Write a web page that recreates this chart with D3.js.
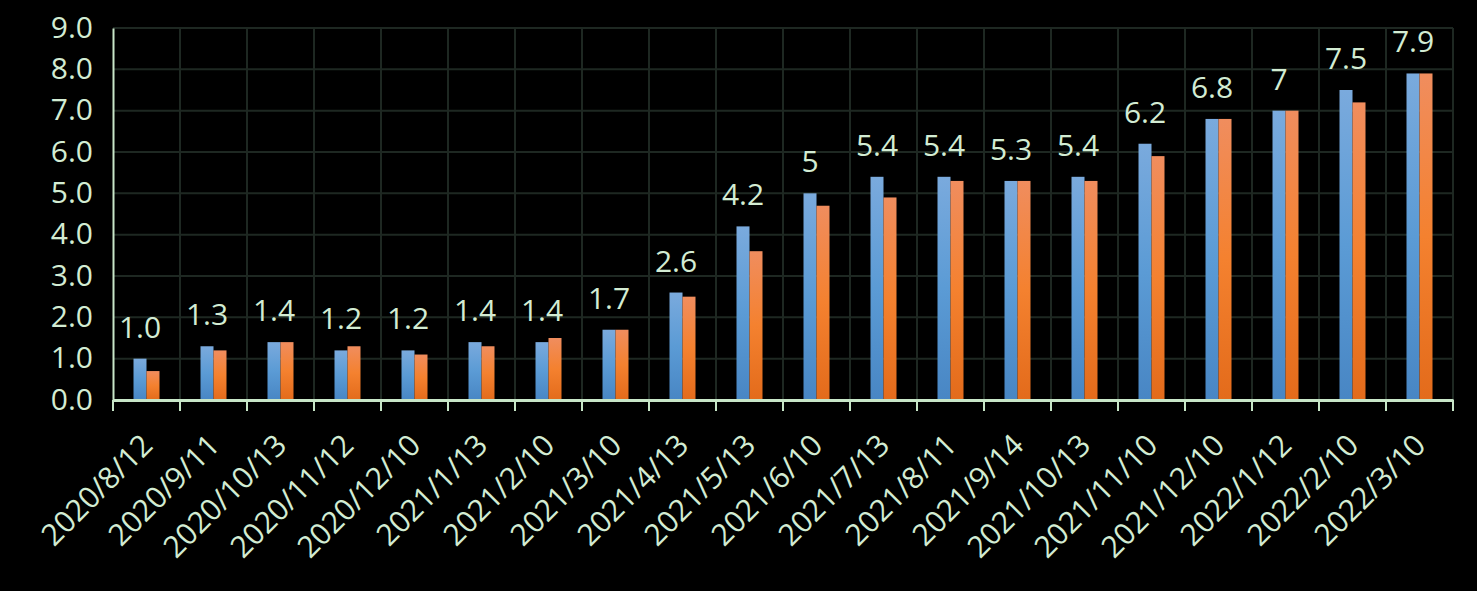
<!DOCTYPE html>
<html>
<head>
<meta charset="utf-8">
<script src="https://cdn.jsdelivr.net/npm/d3@7"></script>
<style>
  html, body { margin: 0; padding: 0; background: #000; }
  svg { display: block; }
  text { font-family: "Open Sans", "Noto Sans", sans-serif; fill: #d3ecd3; }
</style>
</head>
<body>
<script>
const categories = ["2020/8/12","2020/9/11","2020/10/13","2020/11/12","2020/12/10","2021/1/13","2021/2/10","2021/3/10","2021/4/13","2021/5/13","2021/6/10","2021/7/13","2021/8/11","2021/9/14","2021/10/13","2021/11/10","2021/12/10","2022/1/12","2022/2/10","2022/3/10"];
const seriesA = [1.0,1.3,1.4,1.2,1.2,1.4,1.4,1.7,2.6,4.2,5.0,5.4,5.4,5.3,5.4,6.2,6.8,7.0,7.5,7.9];
const seriesB = [0.7,1.2,1.4,1.3,1.1,1.3,1.5,1.7,2.5,3.6,4.7,4.9,5.3,5.3,5.3,5.9,6.8,7.0,7.2,7.9];
const dataLabels = ["1.0","1.3","1.4","1.2","1.2","1.4","1.4","1.7","2.6","4.2","5","5.4","5.4","5.3","5.4","6.2","6.8","7","7.5","7.9"];
const yTicks = [0,1,2,3,4,5,6,7,8,9];

const W = 1477, H = 591;
const mLeft = 113, mRight = 1453, mTop = 28, mBottom = 400;
const FS = 30;

const svg = d3.select("body").append("svg").attr("width", W).attr("height", H);

const defs = svg.append("defs");
const gA = defs.append("linearGradient").attr("id","gA").attr("x1",0).attr("y1",0).attr("x2",0).attr("y2",1);
gA.append("stop").attr("offset","0%").attr("stop-color","#7aaadd");
gA.append("stop").attr("offset","50%").attr("stop-color","#5b9bd5");
gA.append("stop").attr("offset","100%").attr("stop-color","#4886c4");
const gB = defs.append("linearGradient").attr("id","gB").attr("x1",0).attr("y1",0).attr("x2",0).attr("y2",1);
gB.append("stop").attr("offset","0%").attr("stop-color","#f08d5e");
gB.append("stop").attr("offset","50%").attr("stop-color","#f4812f");
gB.append("stop").attr("offset","100%").attr("stop-color","#e36b1b");

const x = d3.scaleBand().domain(categories).range([mLeft, mRight]).paddingInner(0).paddingOuter(0);
const y = d3.scaleLinear().domain([0, 9]).range([mBottom, mTop]);
const bw = x.bandwidth() * 0.194;

// horizontal gridlines
svg.append("g").selectAll("line").data(yTicks.filter(d => d > 0)).join("line")
  .attr("x1", mLeft).attr("x2", mRight)
  .attr("y1", d => y(d)).attr("y2", d => y(d))
  .attr("stroke", "#1e2822").attr("stroke-width", 2);

// vertical gridlines at band boundaries
const bounds = categories.map(c => x(c)).concat([mRight]);
svg.append("g").selectAll("line").data(bounds.slice(1)).join("line")
  .attr("x1", d => d).attr("x2", d => d)
  .attr("y1", mTop).attr("y2", mBottom)
  .attr("stroke", "#1e2822").attr("stroke-width", 2);

// bars
svg.append("g").selectAll("rect").data(seriesA).join("rect")
  .attr("x", (d,i) => x(categories[i]) + x.bandwidth()/2 - bw)
  .attr("y", d => y(d))
  .attr("width", bw)
  .attr("height", d => mBottom - y(d))
  .attr("fill", "url(#gA)");
svg.append("g").selectAll("rect").data(seriesB).join("rect")
  .attr("x", (d,i) => x(categories[i]) + x.bandwidth()/2)
  .attr("y", d => y(d))
  .attr("width", bw)
  .attr("height", d => mBottom - y(d))
  .attr("fill", "url(#gB)");

// data labels
svg.append("g").selectAll("text").data(seriesA).join("text")
  .attr("x", (d,i) => x(categories[i]) + x.bandwidth()/2 - bw/2)
  .attr("y", d => y(d) - 21)
  .attr("text-anchor", "middle")
  .attr("font-size", FS)
  .text((d,i) => dataLabels[i]);

// y axis
const yAxis = svg.append("g").attr("transform", `translate(${mLeft},0)`)
  .call(d3.axisLeft(y).tickValues(yTicks).tickFormat(d3.format(".1f")).tickSize(0).tickPadding(20));
yAxis.select(".domain").attr("stroke", "#c8e6c8").attr("stroke-width", 2);
yAxis.selectAll("text").attr("font-size", FS).attr("fill", "#d3ecd3").attr("dy", "0.3em");

// x axis
const xAxis = svg.append("g").attr("transform", `translate(0,${mBottom})`)
  .call(d3.axisBottom(x).tickSize(0).tickSizeOuter(0));
xAxis.select(".domain").attr("stroke", "#c8e6c8").attr("stroke-width", 3);
xAxis.selectAll(".tick line").remove();
xAxis.selectAll(".tick text")
  .attr("font-size", FS)
  .attr("fill", "#d3ecd3")
  .attr("text-anchor", "end")
  .attr("y", 0)
  .attr("dy", 0)
  .attr("transform", "translate(8,47) rotate(-45)");
// tick marks at band boundaries
svg.append("g").selectAll("line").data(bounds).join("line")
  .attr("x1", d => d).attr("x2", d => d)
  .attr("y1", mBottom).attr("y2", mBottom + 11)
  .attr("stroke", "#c8e6c8").attr("stroke-width", 2);
</script>
</body>
</html>
